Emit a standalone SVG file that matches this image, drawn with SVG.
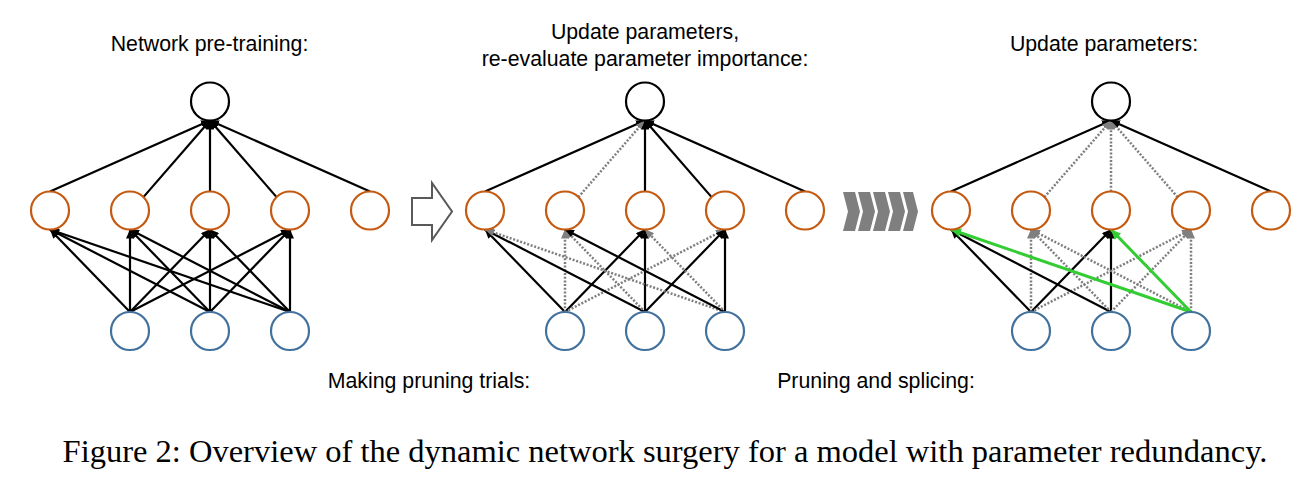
<svg xmlns="http://www.w3.org/2000/svg" width="1299" height="479" viewBox="0 0 1299 479">
<style>
.o{fill:#fff;stroke:#c55a11;stroke-width:2.2}
.b{fill:#fff;stroke:#41719c;stroke-width:2.2}
.k{fill:#fff;stroke:#000;stroke-width:2.2}
.s{stroke:#000;stroke-width:2.2;fill:none;marker-end:url(#ab)}
.d{stroke:#7f7f7f;stroke-width:2.5;stroke-dasharray:2 1.7;fill:none;marker-end:url(#ag)}
.g{stroke:#33cc33;stroke-width:3;fill:none;marker-end:url(#agr)}
.t{font-family:"Liberation Sans",Arial,sans-serif;font-size:21.3px;fill:#000;text-anchor:middle}
.c{font-family:"Liberation Serif","Times New Roman",serif;font-size:32.5px;fill:#000;text-anchor:middle}
</style>
<defs>
<marker id="ab" viewBox="0 0 9 8" refX="9" refY="4" markerWidth="9" markerHeight="8" markerUnits="userSpaceOnUse" orient="auto"><path d="M0,0L9,4L0,8z" fill="#000"/></marker>
<marker id="ag" viewBox="0 0 9 8" refX="9" refY="4" markerWidth="9" markerHeight="8" markerUnits="userSpaceOnUse" orient="auto"><path d="M0,0L9,4L0,8z" fill="#7f7f7f"/></marker>
<marker id="agr" viewBox="0 0 9 8" refX="9" refY="4" markerWidth="10" markerHeight="9" markerUnits="userSpaceOnUse" orient="auto"><path d="M0,0L9,4L0,8z" fill="#33cc33"/></marker>
</defs>
<rect width="1299" height="479" fill="#fff"/>

<g id="labels">
<text class="t" x="209.5" y="51">Network pre-training:</text>
<text class="t" x="645" y="39">Update parameters,</text>
<text class="t" x="645" y="66">re-evaluate parameter importance:</text>
<text class="t" x="1104" y="51">Update parameters:</text>
<text class="t" x="429" y="388">Making pruning trials:</text>
<text class="t" x="876" y="388">Pruning and splicing:</text>
<text class="c" x="665" y="462">Figure 2: Overview of the dynamic network surgery for a model with parameter redundancy.</text>
</g>

<g id="connectors">
<!-- network 1 -->
<line class="s" x1="50" y1="191.5" x2="210" y2="120.5"/>
<line class="s" x1="143.4" y1="197.1" x2="210" y2="120.5"/>
<line class="s" x1="210" y1="191.5" x2="210" y2="120.5"/>
<line class="s" x1="276.6" y1="197.1" x2="210" y2="120.5"/>
<line class="s" x1="370" y1="191.5" x2="210" y2="120.5"/>
<line class="s" x1="130" y1="312" x2="50" y2="229.5"/>
<line class="s" x1="130" y1="312" x2="130" y2="229.5"/>
<line class="s" x1="130" y1="312" x2="210" y2="229.5"/>
<line class="s" x1="130" y1="312" x2="290" y2="229.5"/>
<line class="s" x1="210" y1="312" x2="50" y2="229.5"/>
<line class="s" x1="210" y1="312" x2="130" y2="229.5"/>
<line class="s" x1="210" y1="312" x2="210" y2="229.5"/>
<line class="s" x1="210" y1="312" x2="290" y2="229.5"/>
<line class="s" x1="290" y1="312" x2="50" y2="229.5"/>
<line class="s" x1="290" y1="312" x2="130" y2="229.5"/>
<line class="s" x1="290" y1="312" x2="210" y2="229.5"/>
<line class="s" x1="290" y1="312" x2="290" y2="229.5"/>
<!-- network 2 -->
<line class="s" x1="485" y1="191.5" x2="645" y2="120.5"/>
<line class="d" x1="578.4" y1="197.1" x2="645" y2="120.5"/>
<line class="s" x1="645" y1="191.5" x2="645" y2="120.5"/>
<line class="s" x1="711.6" y1="197.1" x2="645" y2="120.5"/>
<line class="s" x1="805" y1="191.5" x2="645" y2="120.5"/>
<line class="s" x1="565" y1="312" x2="485" y2="229.5"/>
<line class="d" x1="565" y1="312" x2="565" y2="229.5"/>
<line class="s" x1="565" y1="312" x2="645" y2="229.5"/>
<line class="d" x1="565" y1="312" x2="725" y2="229.5"/>
<line class="s" x1="645" y1="312" x2="485" y2="229.5"/>
<line class="d" x1="645" y1="312" x2="565" y2="229.5"/>
<line class="s" x1="645" y1="312" x2="645" y2="229.5"/>
<line class="s" x1="645" y1="312" x2="725" y2="229.5"/>
<line class="d" x1="725" y1="312" x2="485" y2="229.5"/>
<line class="s" x1="725" y1="312" x2="565" y2="229.5"/>
<line class="d" x1="725" y1="312" x2="645" y2="229.5"/>
<line class="s" x1="725" y1="312" x2="725" y2="229.5"/>
<!-- network 3 -->
<line class="s" x1="951" y1="191.5" x2="1111" y2="120.5"/>
<line class="d" x1="1044.4" y1="197.1" x2="1111" y2="120.5"/>
<line class="d" x1="1111" y1="191.5" x2="1111" y2="120.5"/>
<line class="d" x1="1177.6" y1="197.1" x2="1111" y2="120.5"/>
<line class="s" x1="1271" y1="191.5" x2="1111" y2="120.5"/>
<line class="s" x1="1031" y1="312" x2="951" y2="229.5"/>
<line class="d" x1="1031" y1="312" x2="1031" y2="229.5"/>
<line class="s" x1="1031" y1="312" x2="1111" y2="229.5"/>
<line class="d" x1="1031" y1="312" x2="1191" y2="229.5"/>
<line class="s" x1="1111" y1="312" x2="951" y2="229.5"/>
<line class="d" x1="1111" y1="312" x2="1031" y2="229.5"/>
<line class="s" x1="1111" y1="312" x2="1111" y2="229.5"/>
<line class="d" x1="1111" y1="312" x2="1191" y2="229.5"/>
<line class="d" x1="1191" y1="312" x2="1031" y2="229.5"/>
<line class="d" x1="1191" y1="312" x2="1191" y2="229.5"/>
<line class="g" x1="1191" y1="312" x2="951" y2="229.5"/>
<line class="g" x1="1191" y1="312" x2="1111" y2="229.5"/>
</g>

<g id="step-arrow"><polygon points="412,198 432,198 432,183 452,211.5 432,240 432,225 412,225" fill="#fff" stroke="#595959" stroke-width="2"/></g>
<g id="chevrons" fill="#7f7f7f">
<polygon points="843,192 855,192 860,211.5 855,231 843,231 848,211.5"/>
<polygon points="858,192 870,192 875,211.5 870,231 858,231 863,211.5"/>
<polygon points="873,192 885,192 890,211.5 885,231 873,231 878,211.5"/>
<polygon points="888,192 900,192 905,211.5 900,231 888,231 893,211.5"/>
<polygon points="903,192 913,192 918,211.5 913,231 903,231 908,211.5"/>
</g>

<g id="n1-out"><circle class="k" cx="210" cy="101.5" r="19"/></g>
<g id="n1-h0"><circle class="o" cx="50" cy="210.5" r="19"/></g>
<g id="n1-h1"><circle class="o" cx="130" cy="210.5" r="19"/></g>
<g id="n1-h2"><circle class="o" cx="210" cy="210.5" r="19"/></g>
<g id="n1-h3"><circle class="o" cx="290" cy="210.5" r="19"/></g>
<g id="n1-h4"><circle class="o" cx="370" cy="210.5" r="19"/></g>
<g id="n1-i0"><circle class="b" cx="130" cy="331" r="19"/></g>
<g id="n1-i1"><circle class="b" cx="210" cy="331" r="19"/></g>
<g id="n1-i2"><circle class="b" cx="290" cy="331" r="19"/></g>

<g id="n2-out"><circle class="k" cx="645" cy="101.5" r="19"/></g>
<g id="n2-h0"><circle class="o" cx="485" cy="210.5" r="19"/></g>
<g id="n2-h1"><circle class="o" cx="565" cy="210.5" r="19"/></g>
<g id="n2-h2"><circle class="o" cx="645" cy="210.5" r="19"/></g>
<g id="n2-h3"><circle class="o" cx="725" cy="210.5" r="19"/></g>
<g id="n2-h4"><circle class="o" cx="805" cy="210.5" r="19"/></g>
<g id="n2-i0"><circle class="b" cx="565" cy="331" r="19"/></g>
<g id="n2-i1"><circle class="b" cx="645" cy="331" r="19"/></g>
<g id="n2-i2"><circle class="b" cx="725" cy="331" r="19"/></g>

<g id="n3-out"><circle class="k" cx="1111" cy="101.5" r="19"/></g>
<g id="n3-h0"><circle class="o" cx="951" cy="210.5" r="19"/></g>
<g id="n3-h1"><circle class="o" cx="1031" cy="210.5" r="19"/></g>
<g id="n3-h2"><circle class="o" cx="1111" cy="210.5" r="19"/></g>
<g id="n3-h3"><circle class="o" cx="1191" cy="210.5" r="19"/></g>
<g id="n3-h4"><circle class="o" cx="1271" cy="210.5" r="19"/></g>
<g id="n3-i0"><circle class="b" cx="1031" cy="331" r="19"/></g>
<g id="n3-i1"><circle class="b" cx="1111" cy="331" r="19"/></g>
<g id="n3-i2"><circle class="b" cx="1191" cy="331" r="19"/></g>
</svg>
